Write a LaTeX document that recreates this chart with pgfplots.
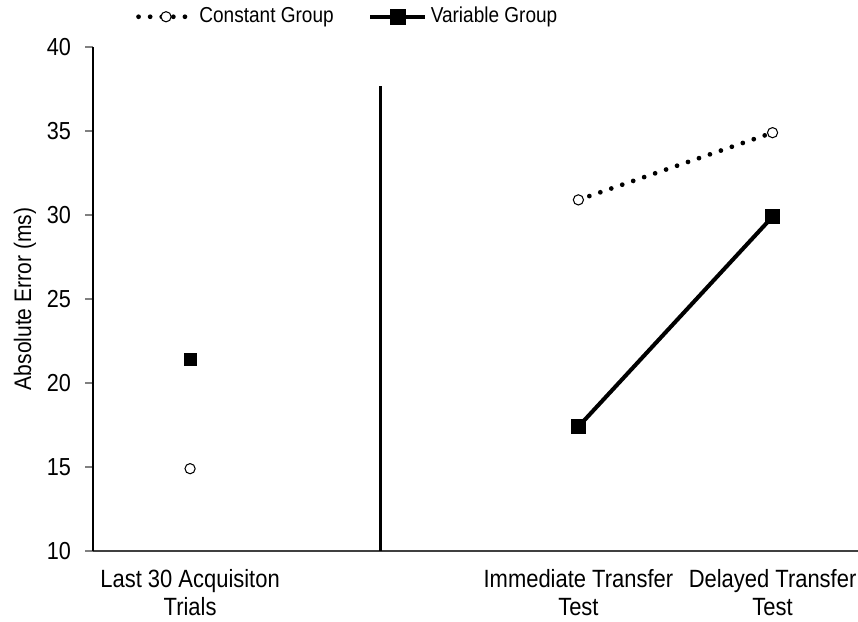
\documentclass[border=0pt]{standalone}
\usepackage{fontspec}
\setmainfont{Liberation Sans}[FakeStretch=0.88]
\usepackage{pgfplots}
\pgfplotsset{compat=1.18}
\begin{document}
\fontsize{14}{16}\selectfont
\begin{tikzpicture}
  \begin{axis}[
    scale only axis,
    width=15.3cm, height=10.08cm,
    xmin=-0.5, xmax=3.44,
    ymin=10, ymax=40,
    ytick={10,15,...,40},
    xtick={0,2,3},
    xticklabels={Last 30 Acquisiton\\Trials, Immediate Transfer\\Test, Delayed Transfer\\Test},
    xticklabel style={align=center, font=\fontsize{14.2}{15.8}\selectfont, yshift=-0.05cm},
    yticklabel style={font=\fontsize{14}{16}\selectfont, xshift=-0.12cm},
    axis x line*=bottom, axis y line*=left,
    axis line style={-, line width=0.9pt},
    x axis line style={black!75},
    x tick style={draw=none},
    y tick style={line width=0.9pt},
    tick align=outside,
    major tick length=0.15cm,
    /pgf/number format/assume math mode=true,
    ylabel={Absolute Error (ms)},
    ylabel style={font=\fontsize{13.6}{16}\selectfont, yshift=-0.12cm},
    legend columns=2,
    legend style={draw=none, fill=none, at={(0.334,1.06)}, anchor=center,
      font=\fontsize{12.3}{14}\selectfont,
      /tikz/every even column/.append style={column sep=0.62cm}},
    legend image code/.code={
      \draw[#1, mark=none] (0cm,0cm) -- (1.1cm,0cm);
      \draw[#1] plot coordinates {(0.55cm,0cm)};
    },
  ]
    \addplot[black, line width=2.7pt, line cap=round, dash pattern=on 0pt off 6.6pt,
      mark=*, mark size=2.9pt, mark options={solid, fill=white, line width=0.6pt}]
      coordinates {(2,30.9) (3,34.9)};
    \addlegendentry{Constant Group}
    \addplot[black, line width=2.3pt,
      mark=square*, mark size=3.3pt, mark options={solid}]
      coordinates {(2,17.4) (3,29.9)};
    \addlegendentry{Variable Group}
    % acquisition values (no line)
    \addplot[only marks, black, mark=*, mark size=2.9pt,
      mark options={fill=white, line width=0.6pt}, forget plot]
      coordinates {(0,14.9)};
    \addplot[only marks, black, mark=square*, mark size=3.3pt, forget plot]
      coordinates {(0,21.4)};
    % divider
    \addplot[black, line width=1.6pt, mark=none, forget plot]
      coordinates {(0.98,10) (0.98,37.7)};
  \end{axis}
  \pgfresetboundingbox
  \path (-1.86cm,-1.42cm) rectangle (15.3cm,11.02cm);
\end{tikzpicture}
\end{document}
